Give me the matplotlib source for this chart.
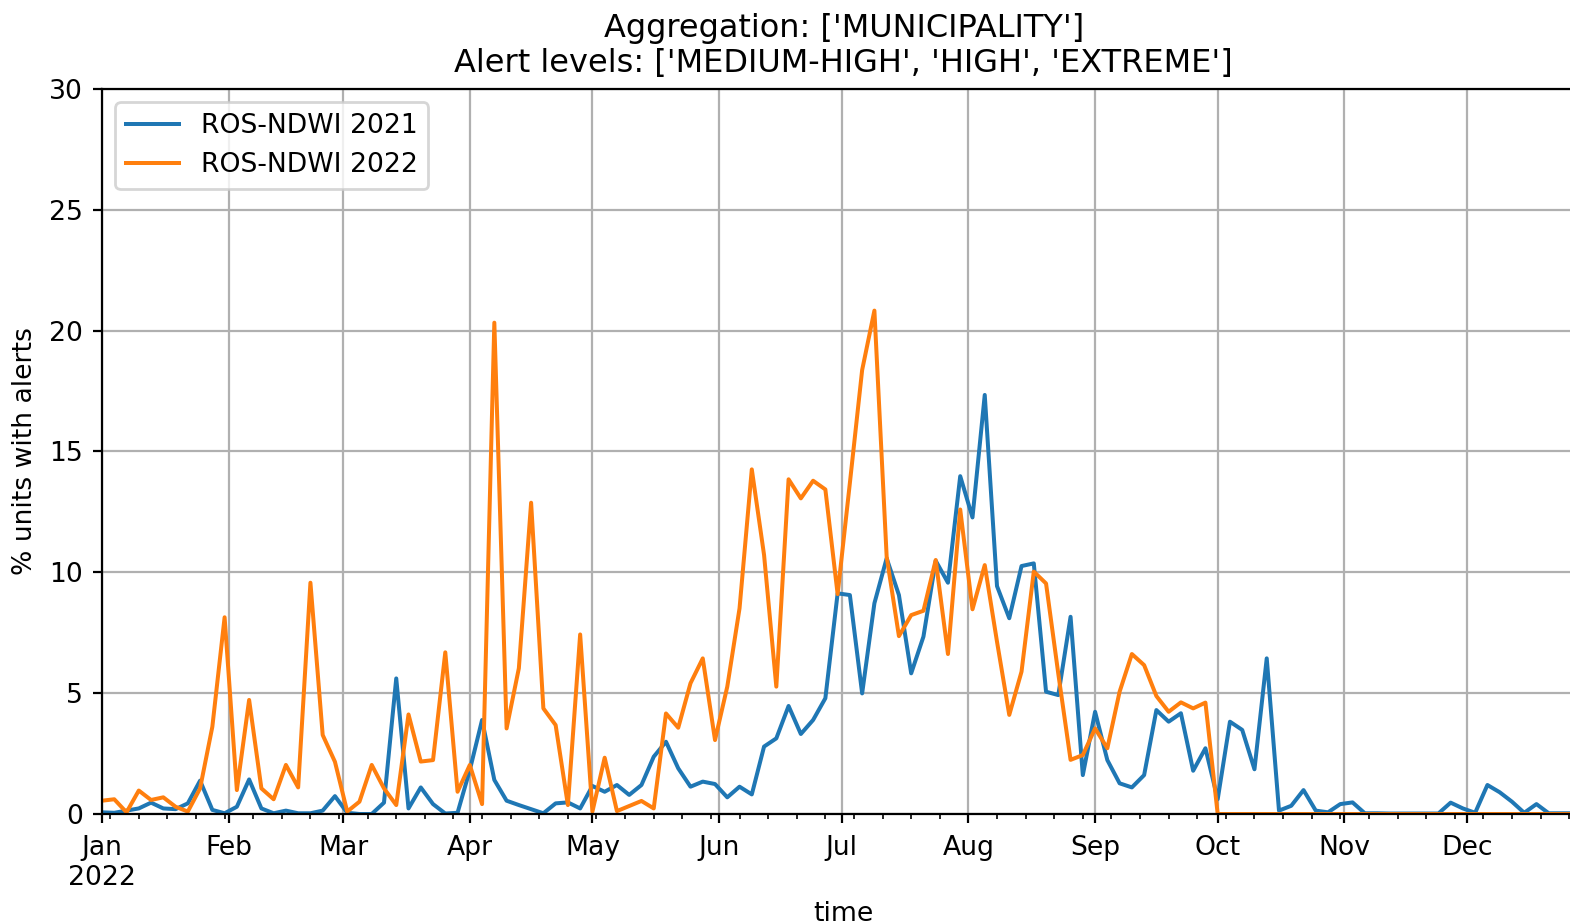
import matplotlib
matplotlib.use('Agg')
import matplotlib.pyplot as plt
import matplotlib.dates as mdates
from matplotlib.ticker import FuncFormatter
import pandas as pd

dates = pd.date_range('2022-01-01', periods=122, freq='3D')

ros_2021 = [
    0.07, 0.05, 0.14, 0.23, 0.47, 0.23, 0.20, 0.44, 1.38, 0.17,
    0.03, 0.30, 1.43, 0.23, 0.03, 0.14, 0.03, 0.03, 0.14, 0.74,
    0.05, 0.00, 0.00, 0.47, 5.61, 0.23, 1.10, 0.41, 0.02, 0.05,
    1.82, 3.89, 1.41, 0.55, 0.37, 0.20, 0.03, 0.44, 0.48, 0.23,
    1.16, 0.92, 1.20, 0.79, 1.20, 2.37, 2.99, 1.89, 1.13, 1.34,
    1.24, 0.69, 1.13, 0.81, 2.79, 3.13, 4.47, 3.31, 3.89, 4.79,
    9.13, 9.06, 4.99, 8.72, 10.58, 9.06, 5.82, 7.34, 10.48, 9.57,
    13.98, 12.27, 17.34, 9.43, 8.10, 10.26, 10.37, 5.06, 4.92, 8.16,
    1.61, 4.23, 2.23, 1.27, 1.10, 1.61, 4.30, 3.82, 4.17, 1.79,
    2.72, 0.61, 3.82, 3.48, 1.85, 6.44, 0.14, 0.34, 0.99, 0.14,
    0.07, 0.41, 0.48, 0.03, 0.03, 0.02, 0.02, 0.02, 0.02, 0.02,
    0.47, 0.23, 0.05, 1.20, 0.90, 0.51, 0.05, 0.41, 0.03, 0.03,
    0.03, 0.03,
]

ros_2022 = [
    0.55, 0.61, 0.07, 0.97, 0.58, 0.69, 0.30, 0.10, 1.06, 3.61,
    8.14, 0.99, 4.72, 1.06, 0.61, 2.03, 1.10, 9.57, 3.27, 2.16,
    0.10, 0.51, 2.03, 1.06, 0.37, 4.12, 2.17, 2.23, 6.69, 0.92,
    2.03, 0.41, 20.33, 3.54, 6.03, 12.88, 4.37, 3.68, 0.37, 7.43,
    0.10, 2.33, 0.12, 0.33, 0.54, 0.23, 4.16, 3.57, 5.41, 6.44,
    3.06, 5.27, 8.51, 14.26, 10.72, 5.27, 13.85, 13.06, 13.79, 13.43,
    9.10, 13.70, 18.37, 20.83, 10.65, 7.36, 8.23, 8.41, 10.51, 6.62,
    12.60, 8.47, 10.30, 7.13, 4.10, 5.89, 10.03, 9.54, 5.80, 2.24,
    2.44, 3.54, 2.72, 5.06, 6.62, 6.16, 4.88, 4.23, 4.62, 4.37,
    4.61, 0.00, 0.00, 0.00, 0.00, 0.00, 0.00, 0.00, 0.00, 0.00,
    0.00, 0.00, 0.00, 0.00, 0.00, 0.00, 0.00, 0.00, 0.00, 0.00,
    0.00, 0.00, 0.00, 0.00, 0.00, 0.00, 0.00, 0.00, 0.00, 0.00,
    0.00, 0.00,
]

series_labels = ['ROS-NDWI 2021', 'ROS-NDWI 2022']
title = "Aggregation: ['MUNICIPALITY']\nAlert levels: ['MEDIUM-HIGH', 'HIGH', 'EXTREME']"

s = 0.96
plt.rcParams['font.size'] = 10 * s
plt.rcParams['lines.linewidth'] = 1.5 * s
plt.rcParams['xtick.major.size'] = 3.5 * s
plt.rcParams['ytick.major.size'] = 3.5 * s
plt.rcParams['xtick.minor.size'] = 2 * s
plt.rcParams['xtick.major.pad'] = 4.2

W, H = 1570, 924
fig = plt.figure(figsize=(W / 200, H / 200), dpi=200)
ax = fig.add_axes([102 / W, (H - 814) / H, (1585.5 - 102) / W, (814 - 89) / H])

ax.plot(dates, ros_2021, label=series_labels[0], color='#1f77b4')
ax.plot(dates, ros_2022, label=series_labels[1], color='#ff7f0e')

ax.set_xlim(dates[0], dates[-1])
ax.set_ylim(0, 30)

ax.xaxis.set_major_locator(mdates.MonthLocator())
ax.xaxis.set_minor_locator(mdates.WeekdayLocator(byweekday=mdates.MO))


def fmt(x, pos):
    d = mdates.num2date(x)
    lab = d.strftime('%b')
    if d.month == 1:
        lab += '\n' + str(d.year)
    return lab


ax.xaxis.set_major_formatter(FuncFormatter(fmt))
ax.grid(True, which='major')

ax.set_xlabel('time', labelpad=3.5)
ax.set_ylabel('% units with alerts')
ax.set_title(title)
ax.legend(loc='upper left')

fig.savefig('out.png', dpi=200)
